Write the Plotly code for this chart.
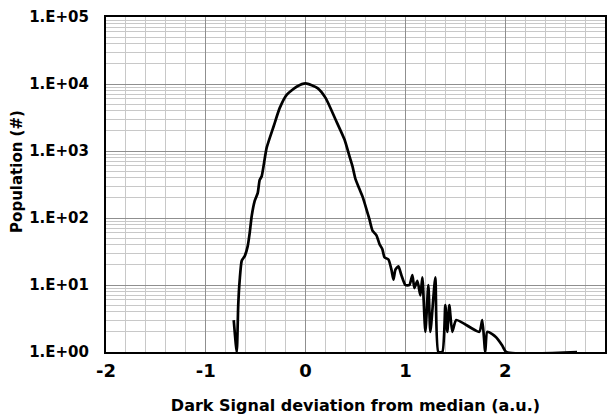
import plotly.graph_objects as go

# Histogram of dark-signal deviation
deviation = [-0.72, -0.69, -0.675, -0.66, -0.64, -0.61, -0.58, -0.56, -0.54, -0.51,
             -0.48, -0.46, -0.44, -0.39, -0.32, -0.26, -0.19, -0.09, 0.00, 0.12,
             0.20, 0.30, 0.39, 0.44, 0.47, 0.50, 0.54, 0.57, 0.61, 0.64,
             0.67, 0.71, 0.74, 0.77, 0.79, 0.83, 0.86, 0.88, 0.90, 0.93,
             0.96, 1.00, 1.04, 1.07, 1.09, 1.12, 1.15, 1.17, 1.20, 1.23,
             1.25, 1.30, 1.33, 1.37, 1.40, 1.42, 1.44, 1.47, 1.51, 1.74,
             1.77, 1.80, 1.82, 1.87, 1.91, 1.97, 2.01, 2.72]
population = [3, 1, 5, 12, 23, 27, 38, 60, 107, 180,
              235, 370, 420, 1120, 2340, 4360, 6900, 9100, 10200, 8700,
              6200, 2950, 1480, 830, 590, 380, 270, 210, 135, 95,
              65, 55, 41, 34, 26, 24, 17, 12, 17, 19,
              14, 10, 10, 14, 9, 11.5, 7, 13, 2, 10,
              2, 13, 1, 1, 5, 2, 5, 2, 3, 2,
              3, 1, 2, 1.85, 1.65, 1.25, 1, 1]

y_tick_vals = [1, 10, 100, 1000, 10000, 100000]
y_tick_text = ["1.E+00", "1.E+01", "1.E+02", "1.E+03", "1.E+04", "1.E+05"]
y_minor_vals = [m * d for d in [1, 10, 100, 1000, 10000] for m in range(2, 10)]
x_tick_vals = [-2, -1, 0, 1, 2, 3]

FONT = "DejaVu Sans"

fig = go.Figure()
fig.add_trace(go.Scatter(
    x=deviation, y=population, mode="lines",
    line=dict(color="black", width=2.7, shape="spline", smoothing=0.55),
    showlegend=False, hoverinfo="skip",
))

fig.update_layout(
    width=611, height=416,
    margin=dict(l=106, r=4, t=17, b=63),
    paper_bgcolor="white", plot_bgcolor="white",
    font=dict(family=FONT, color="black"),
    annotations=[dict(
        text="<b>Population (#)</b>", textangle=-90,
        xref="paper", yref="paper",
        x=(16 - 106) / 501, y=(353 - 172) / 336,
        xanchor="center", yanchor="middle", showarrow=False,
        font=dict(family=FONT, size=15, color="black"),
    )],
)

fig.update_xaxes(
    range=[-2, 3], tickmode="array", tickvals=x_tick_vals,
    ticktext=[f"<b>{v}</b>" for v in x_tick_vals],
    tickfont=dict(family=FONT, size=18, color="black"),
    showgrid=True, gridcolor="#8f8f8f", gridwidth=1,
    minor=dict(dtick=0.2, showgrid=True, gridcolor="#c8c8c8", gridwidth=1),
    showline=True, linecolor="black", linewidth=2, mirror=True,
    ticks="outside", ticklen=1, tickcolor="rgba(0,0,0,0)",
    zeroline=False,
    title=dict(text="<b>Dark Signal deviation from median (a.u.)</b>",
               font=dict(family=FONT, size=16, color="black"), standoff=20),
)

fig.update_yaxes(
    type="log", range=[0, 5], tickmode="array", tickvals=y_tick_vals,
    ticktext=[f"<b>{t}</b>" for t in y_tick_text],
    tickfont=dict(family=FONT, size=15, color="black"),
    showgrid=True, gridcolor="#8f8f8f", gridwidth=1,
    minor=dict(tickmode="array", tickvals=y_minor_vals, showgrid=True,
               gridcolor="#c8c8c8", gridwidth=1),
    showline=True, linecolor="black", linewidth=2, mirror=True,
    ticks="outside", ticklen=12, tickcolor="rgba(0,0,0,0)",
    zeroline=False,
)

fig.write_html("out.html")
